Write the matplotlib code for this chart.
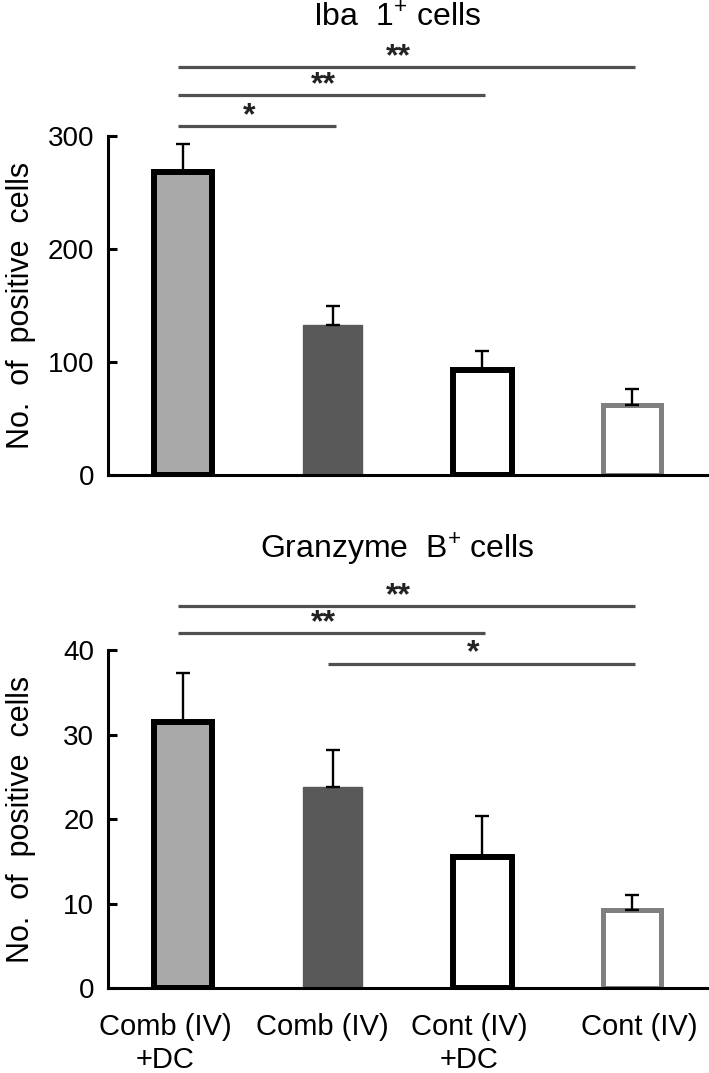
import matplotlib
matplotlib.use('Agg')
import matplotlib.pyplot as plt
import numpy as np

plt.rcParams['font.family'] = ['Liberation Sans', 'DejaVu Sans']
plt.rcParams['mathtext.fontset'] = 'custom'
plt.rcParams['mathtext.rm'] = 'Liberation Sans'

# data
groups = ['Comb (IV)\n+DC', 'Comb (IV)', 'Cont (IV)\n+DC', 'Cont (IV)']
iba_mean = [268, 133, 93, 62]
iba_err = [25, 17, 17, 14]
gzb_mean = [31.5, 23.8, 15.5, 9.2]
gzb_err = [5.8, 4.4, 4.8, 1.8]

# significance brackets: (group a, group b, height, stars)
iba_sig = [(0, 1, 309, '*'), (0, 2, 336, '**'), (0, 3, 361, '**')]
gzb_sig = [(0, 3, 45.2, '**'), (0, 2, 42.0, '**'), (1, 3, 38.4, '*')]

fills = ['#a9a9a9', '#595959', 'white', 'white']
edges = ['black', '#595959', 'black', '#808080']
edge_w = [4.3, 1.0, 4.3, 3.6]
label_shift = [-0.12, -0.07, -0.09, 0.05]

fig = plt.figure(figsize=(7.09, 10.73), dpi=100)
ax1 = fig.add_axes([0.1523, 0.5573, 0.8449, 0.3159])
ax2 = fig.add_axes([0.1523, 0.0792, 0.8449, 0.3150])


def draw_panel(ax, means, errs, sig, ymax, step, title, title_y):
    x = np.arange(len(means))
    ax.bar(x, means, width=0.39, color=fills, edgecolor=edges, linewidth=edge_w, zorder=2)
    ax.errorbar(x, means, yerr=[np.zeros(len(errs)), errs], fmt='none', ecolor='black',
                elinewidth=1.7, capsize=5, capthick=1.7, zorder=3)
    ax.set_xlim(-0.5, 3.5)
    ax.set_ylim(0, ymax)
    ax.set_yticks(np.arange(0, ymax + 1, step))
    for s in ['top', 'right']:
        ax.spines[s].set_visible(False)
    ax.spines['left'].set_linewidth(2.2)
    ax.spines['bottom'].set_linewidth(2.2)
    ax.tick_params(axis='y', direction='in', length=6.5, width=2.2, labelsize=20, pad=10)
    ax.tick_params(axis='x', length=0)
    ax.set_xticks([])
    ax.set_ylabel('No.  of  positive  cells', fontsize=22)
    ax.yaxis.set_label_coords(-0.12, 0.5)

    for a, b, h, stars in sig:
        ax.plot([a - 0.03, b + 0.02], [h, h], color='#505050', lw=2.3,
                solid_capstyle='butt', clip_on=False)
        ax.annotate(stars, xy=((a + b) / 2 - 0.06, h), xytext=(0, 1.5),
                    textcoords='offset points', ha='center', va='baseline',
                    fontsize=23, fontweight='bold', color='#222222', annotation_clip=False)

    ax.text(1.43, title_y, title, ha='center', va='center', fontsize=23, clip_on=False)


draw_panel(ax1, iba_mean, iba_err, iba_sig, 300, 100, 'Iba  1$^{\\mathrm{+}}$ cells', 404)
draw_panel(ax2, gzb_mean, gzb_err, gzb_sig, 40, 10, 'Granzyme  B$^{\\mathrm{+}}$ cells', 52)

for i, lab in enumerate(groups):
    ax2.text(i + label_shift[i], -3.0, lab, ha='center', va='top', fontsize=21,
             linespacing=1.2, clip_on=False)

fig.savefig('out.png', dpi=100)
